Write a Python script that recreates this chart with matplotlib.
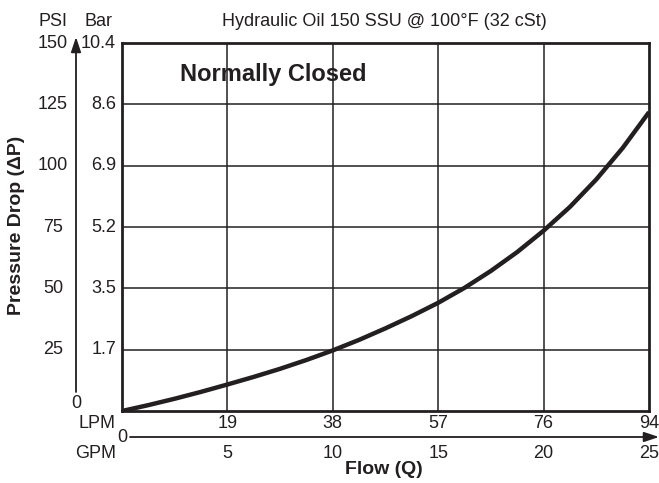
import matplotlib
matplotlib.use("Agg")
import matplotlib.pyplot as plt
from matplotlib.transforms import blended_transform_factory

plt.rcParams['font.family'] = ['Liberation Sans', 'DejaVu Sans']

# flow in GPM, pressure drop in PSI
flow_gpm = [0, 1.25, 2.5, 3.75, 5, 6.25, 7.5, 8.75, 10, 11.25, 12.5,
            13.75, 15, 16.25, 17.5, 18.75, 20, 21.25, 22.5, 23.75, 25]
drop_psi = [0, 2.4, 5.0, 7.8, 10.8, 13.9, 17.2, 20.8, 24.7, 29.0, 33.7,
            38.7, 44.1, 50.2, 57.1, 64.8, 73.5, 83.2, 94.4, 107.2, 121.8]

psi_ticks = [0, 25, 50, 75, 100, 125, 150]
bar_labels = ['', '1.7', '3.5', '5.2', '6.9', '8.6', '10.4']
gpm_ticks = [5, 10, 15, 20, 25]
lpm_labels = ['19', '38', '57', '76', '94']

INK = '#231f20'
W, H = 659, 483

fig = plt.figure(figsize=(W / 100, H / 100), dpi=100)
ax = fig.add_axes([122 / W, 1 - 411 / H, (649 - 122) / W, (411 - 43) / H])
ax.set_xlim(0, 25)
ax.set_ylim(0, 150)
ax.set_xticks([])
ax.set_yticks([])
for s in ax.spines.values():
    s.set_linewidth(2.0)
    s.set_color(INK)

for y in psi_ticks[1:-1]:
    ax.axhline(y, color=INK, lw=1.1, zorder=1)
for x in gpm_ticks[:-1]:
    ax.axvline(x, color=INK, lw=1.1, zorder=1)

ax.plot(flow_gpm, drop_psi, color=INK, lw=3.2, solid_joinstyle='round',
        solid_capstyle='butt', zorder=3)

ax.text(0.11, 0.915, 'Normally Closed', transform=ax.transAxes, fontsize=17,
        fontweight='bold', color=INK, va='center', ha='left')

fs = 13
# y tick labels (PSI and Bar columns)
ty = blended_transform_factory(fig.transFigure, ax.transData)
for v, b in zip(psi_ticks, bar_labels):
    if v == 0:
        fig.text(76 / W, 1 - 403 / H, '0', fontsize=fs, color=INK, ha='center', va='center')
        continue
    ax.text(53 / W, v, str(v), transform=ty, fontsize=fs, color=INK,
            ha='center', va='center', clip_on=False)
    ax.text(116 / W, v, b, transform=ty, fontsize=fs, color=INK,
            ha='right', va='center', clip_on=False)
fig.text(53 / W, 1 - 21 / H, 'PSI', fontsize=fs, color=INK, ha='center', va='center')
fig.text(112 / W, 1 - 21 / H, 'Bar', fontsize=fs, color=INK, ha='right', va='center')

# x tick labels (LPM and GPM rows)
tx = blended_transform_factory(ax.transData, fig.transFigure)
for g, l in zip(gpm_ticks, lpm_labels):
    ax.text(g, 1 - 423 / H, l, transform=tx, fontsize=fs, color=INK,
            ha='center', va='center', clip_on=False)
    ax.text(g, 1 - 453 / H, str(g), transform=tx, fontsize=fs, color=INK,
            ha='center', va='center', clip_on=False)
fig.text(116 / W, 1 - 423 / H, 'LPM', fontsize=fs, color=INK, ha='right', va='center')
fig.text(116 / W, 1 - 453 / H, 'GPM', fontsize=fs, color=INK, ha='right', va='center')
fig.text(127 / W, 1 - 437 / H, '0', fontsize=fs, color=INK, ha='right', va='center')

# axis arrows
arrow = dict(arrowstyle='-|>,head_length=0.9,head_width=0.3', color=INK, lw=1.3,
             shrinkA=0, shrinkB=0)
ax.annotate('', xy=(76, H - 37), xytext=(76, H - 392), xycoords='figure pixels',
            textcoords='figure pixels', arrowprops=arrow)
ax.annotate('', xy=(659, H - 437), xytext=(130, H - 437), xycoords='figure pixels',
            textcoords='figure pixels', arrowprops=arrow)

fig.text(384 / W, 1 - 22 / H, 'Hydraulic Oil 150 SSU @ 100°F (32 cSt)', fontsize=fs,
         color=INK, ha='center', va='center')
fig.text(384 / W, 1 - 469 / H, 'Flow (Q)', fontsize=14, fontweight='bold',
         color=INK, ha='center', va='center')
fig.text(17 / W, 1 - 225 / H, 'Pressure Drop (\u0394P)', fontsize=14, fontweight='bold',
         color=INK, ha='center', va='center', rotation=90)

fig.savefig('out.png', dpi=100)
